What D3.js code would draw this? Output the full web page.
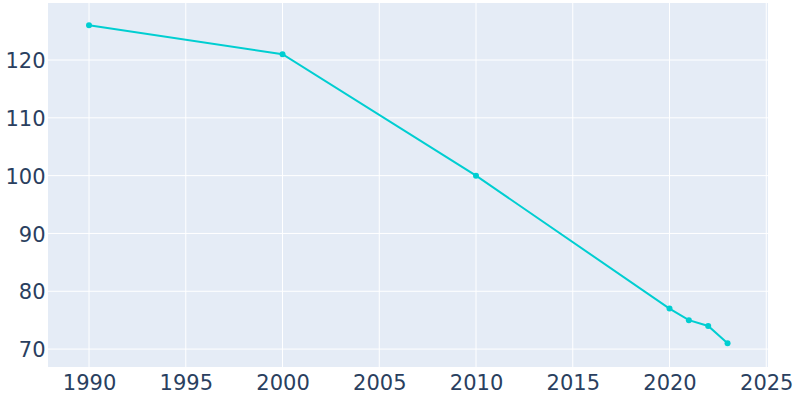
<!DOCTYPE html>
<html><head><meta charset="utf-8">
<script src="https://cdn.jsdelivr.net/npm/d3@7"></script>
<style>body{margin:0;background:#fff}svg{display:block}</style>
</head><body><svg id="c" width="800" height="400"></svg>
<script>
const years = [1990, 2000, 2010, 2020, 2021, 2022, 2023];
const population = [126, 121, 100, 77, 75, 74, 71];
const xTicks = [1990, 1995, 2000, 2005, 2010, 2015, 2020, 2025];
const yTicks = [70, 80, 90, 100, 110, 120];

const svg = d3.select("#c");
const L = 48, R = 768, T = 3, B = 367;
const x = d3.scaleLinear().domain([1987.88, 2025.09]).range([L, R]);
const y = d3.scaleLinear().domain([66.9, 129.86]).range([B, T]);

svg.append("rect").attr("x", L).attr("y", T).attr("width", R - L).attr("height", B - T).attr("fill", "#E5ECF6");

svg.append("g").selectAll("line").data(xTicks).join("line")
  .attr("x1", d => x(d)).attr("x2", d => x(d)).attr("y1", T).attr("y2", B)
  .attr("stroke", "#fff").attr("stroke-width", 1);
svg.append("g").selectAll("line").data(yTicks).join("line")
  .attr("x1", L).attr("x2", R).attr("y1", d => y(d)).attr("y2", d => y(d))
  .attr("stroke", "#fff").attr("stroke-width", 1);

const font = "'DejaVu Sans', Verdana, sans-serif";
const fs = 21;
const xAxis = d3.axisBottom(x).tickValues(xTicks).tickFormat(d3.format("d")).tickSize(0).tickPadding(0);
const gx = svg.append("g").attr("transform", `translate(0,${B})`).call(xAxis);
gx.select(".domain").remove();
gx.selectAll("text").attr("dy", null).attr("y", 23).attr("font-size", fs).attr("font-family", font).attr("fill", "#2a3f5f");

const yAxis = d3.axisLeft(y).tickValues(yTicks).tickSize(0).tickPadding(0);
const gy = svg.append("g").attr("transform", `translate(${L},0)`).call(yAxis);
gy.select(".domain").remove();
gy.selectAll("text").attr("x", -2.5).attr("dy", "0.36em").attr("font-size", fs).attr("font-family", font).attr("fill", "#2a3f5f");

const data = years.map((d, i) => ({ year: d, value: population[i] }));
svg.append("path").datum(data)
  .attr("d", d3.line().x(d => x(d.year)).y(d => y(d.value)))
  .attr("fill", "none").attr("stroke", "#00CED1").attr("stroke-width", 2);
svg.append("g").selectAll("circle").data(data).join("circle")
  .attr("cx", d => x(d.year)).attr("cy", d => y(d.value)).attr("r", 3)
  .attr("fill", "#00CED1");
</script></body></html>
